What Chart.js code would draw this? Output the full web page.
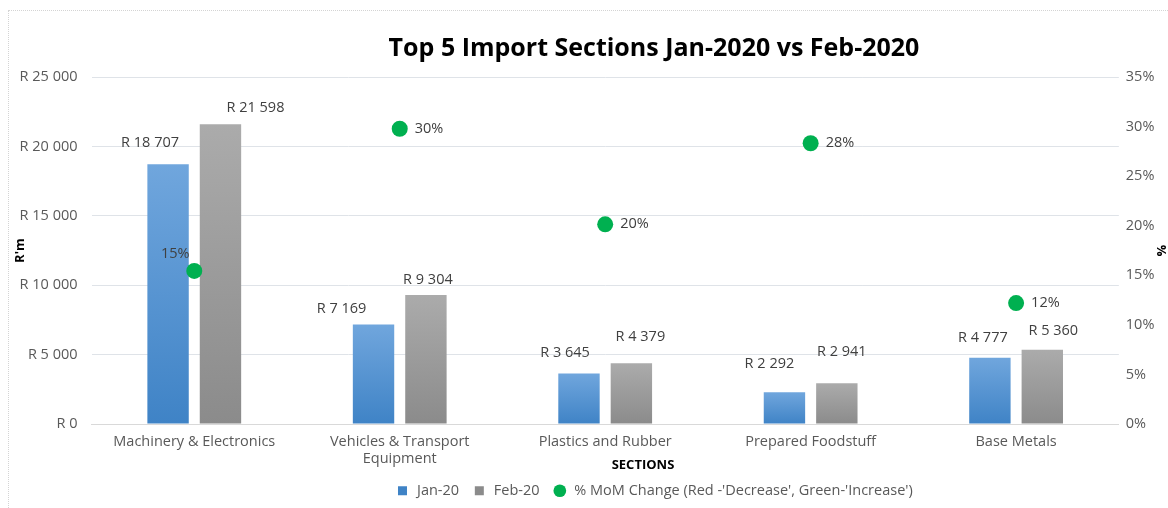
<!DOCTYPE html>
<html>
<head>
<meta charset="utf-8">
<script src="https://cdn.jsdelivr.net/npm/chart.js@4.4.1/dist/chart.umd.min.js"></script>
<style>
  html, body { margin: 0; padding: 0; background: #fff; overflow: hidden; }
  #wrap { position: relative; width: 1296px; height: 508px; }
  #frame { position: absolute; left: 8px; top: 10px; right: -4px; bottom: -4px; border: 1px dotted #d4d4d4; pointer-events: none; }
</style>
</head>
<body>
<div id="wrap">
  <canvas id="importChart" width="1296" height="508"></canvas>
  <div id="frame"></div>
</div>
<script>
// Datos del gráfico
const categorias = [['Machinery & Electronics'], ['Vehicles & Transport', 'Equipment'], ['Plastics and Rubber'], ['Prepared Foodstuff'], ['Base Metals']];
const importJan = [18707, 7169, 3645, 2292, 4777];
const importFeb = [21598, 9304, 4379, 2941, 5360];
const cambioMoM = [15.45, 29.78, 20.14, 28.32, 12.20];
const etiquetasMoM = ['15%', '30%', '20%', '28%', '12%'];

// Ajustes de posición de etiquetas (px), como en el original
const ajusteJan = [[-18, -21], [-32, -16], [-14, -21], [-15, -28], [-7, -20]];
const ajusteFeb = [[35, -16], [2, -15], [9, -26], [5, -31], [11, -19]];
const ajusteMoM = [[-19, -17], [15, 0], [15, 0], [15, 0], [15, 0]];

const FUENTE = "'Open Sans', sans-serif";
const GRIS_TEXTO = '#595959';
const TAM = 14.5;

const formatoRand = (v) => 'R ' + Math.round(v).toString().replace(/\B(?=(\d{3})+(?!\d))/g, ' ');

// Degradado vertical por barra
const degradado = (arriba, abajo) => (c) => {
    const chart = c.chart;
    const y = chart.scales && chart.scales.y;
    if (!y || !chart.chartArea || c.raw == null) return abajo;
    const top = y.getPixelForValue(c.raw);
    const bottom = y.getPixelForValue(0);
    if (!isFinite(top) || !isFinite(bottom) || bottom - top < 1) return abajo;
    const g = chart.ctx.createLinearGradient(0, top, 0, bottom);
    g.addColorStop(0, arriba);
    g.addColorStop(1, abajo);
    return g;
};

// Plugin para dibujar etiquetas de datos y los títulos de ejes desplazados
const etiquetasDatos = {
    id: 'etiquetasDatos',
    afterDatasetsDraw(chart) {
        const ctx = chart.ctx;
        ctx.save();
        ctx.font = TAM + 'px ' + FUENTE;
        ctx.fillStyle = '#404040';
        ctx.textBaseline = 'middle';
        ctx.textAlign = 'center';
        [[0, importJan, ajusteJan], [1, importFeb, ajusteFeb]].forEach(([idx, valores, ajustes]) => {
            chart.getDatasetMeta(idx).data.forEach((el, i) => {
                ctx.fillText(formatoRand(valores[i]), el.x + ajustes[i][0], el.y + ajustes[i][1]);
            });
        });
        chart.getDatasetMeta(2).data.forEach((el, i) => {
            const [dx, dy] = ajusteMoM[i];
            ctx.textAlign = dx > 0 ? 'left' : 'center';
            ctx.fillText(etiquetasMoM[i], el.x + dx, el.y + dy);
        });
        // "SECTIONS" centrado en todo el gráfico, como en Excel
        ctx.font = 'bold 13px ' + FUENTE;
        ctx.fillStyle = '#000';
        ctx.textAlign = 'center';
        ctx.fillText('SECTIONS', chart.width / 2 - 5, chart.scales.x.bottom - 5);
        // "%" del eje derecho
        const area = chart.chartArea;
        ctx.translate(area.right + 42, (area.top + area.bottom) / 2);
        ctx.rotate(Math.PI / 2);
        ctx.fillText('%', 0, 0);
        ctx.restore();
    }
};

const inicializarGrafico = () => {
    const lienzo = document.getElementById('importChart');
    new Chart(lienzo, {
        type: 'bar',
        data: {
            labels: categorias,
            datasets: [
                {
                    label: 'Jan-20',
                    data: importJan,
                    backgroundColor: degradado('#70a6dd', '#3f83c6'),
                    borderWidth: 0,
                    yAxisID: 'y',
                    order: 2,
                    pointStyle: 'rect'
                },
                {
                    label: 'Feb-20',
                    data: importFeb,
                    backgroundColor: degradado('#ababab', '#8b8b8b'),
                    borderWidth: 0,
                    yAxisID: 'y',
                    order: 2,
                    pointStyle: 'rect'
                },
                {
                    type: 'line',
                    label: "% MoM Change (Red -'Decrease', Green-'Increase')",
                    data: cambioMoM,
                    yAxisID: 'y1',
                    showLine: false,
                    pointRadius: 8,
                    pointHoverRadius: 8,
                    pointStyle: 'circle',
                    backgroundColor: '#00b050',
                    borderColor: '#00b050',
                    borderWidth: 0,
                    order: 1
                }
            ]
        },
        options: {
            responsive: false,
            animation: false,
            layout: { padding: { left: 12, right: 0, top: 34, bottom: 0 } },
            categoryPercentage: 0.51,
            barPercentage: 0.79,
            scales: {
                x: {
                    grid: { display: false },
                    border: { display: true, color: '#d9d9d9' },
                    ticks: { color: GRIS_TEXTO, font: { family: FUENTE, size: TAM }, maxRotation: 0, padding: 1 },
                    // espacio reservado; el texto se dibuja en el plugin
                    title: { display: true, text: 'SECTIONS', color: 'rgba(0,0,0,0)', font: { family: FUENTE, size: 13, weight: 'bold' }, padding: { top: -14, bottom: 0 } }
                },
                y: {
                    position: 'left',
                    min: 0,
                    max: 25000,
                    border: { display: false },
                    grid: { color: '#dfe3e8', lineWidth: 1, drawTicks: true, tickLength: 8, tickColor: '#ffffff' },
                    ticks: { stepSize: 5000, color: GRIS_TEXTO, font: { family: FUENTE, size: TAM }, padding: 6, callback: (v) => formatoRand(v) },
                    title: { display: true, text: "R'm", color: '#000', font: { family: FUENTE, size: 13, weight: 'bold' }, padding: { top: 0, bottom: -14 } }
                },
                y1: {
                    position: 'right',
                    min: 0,
                    max: 35,
                    border: { display: false },
                    grid: { display: false, drawTicks: false },
                    ticks: { stepSize: 5, color: GRIS_TEXTO, font: { family: FUENTE, size: TAM }, padding: 7, callback: (v) => v + '%' },
                    // espacio reservado; el "%" se dibuja en el plugin
                    title: { display: true, text: '%', color: 'rgba(0,0,0,0)', font: { family: FUENTE, size: 13, weight: 'bold' }, padding: { top: 119, bottom: 0 } }
                }
            },
            plugins: {
                title: {
                    display: true,
                    text: 'Top 5 Import Sections Jan-2020 vs Feb-2020',
                    color: '#000',
                    font: { family: FUENTE, size: 25, weight: 'bold' },
                    padding: { top: 0, bottom: 13 }
                },
                legend: {
                    position: 'bottom',
                    labels: {
                        usePointStyle: true,
                        boxHeight: 9,
                        color: GRIS_TEXTO,
                        font: { family: FUENTE, size: TAM },
                        padding: 13,
                        sort: (a, b) => a.datasetIndex - b.datasetIndex
                    }
                },
                tooltip: { enabled: false }
            }
        },
        plugins: [etiquetasDatos]
    });
};

if (document.readyState === 'loading') {
    document.addEventListener('DOMContentLoaded', inicializarGrafico);
} else {
    inicializarGrafico();
}
</script>
</body>
</html>
